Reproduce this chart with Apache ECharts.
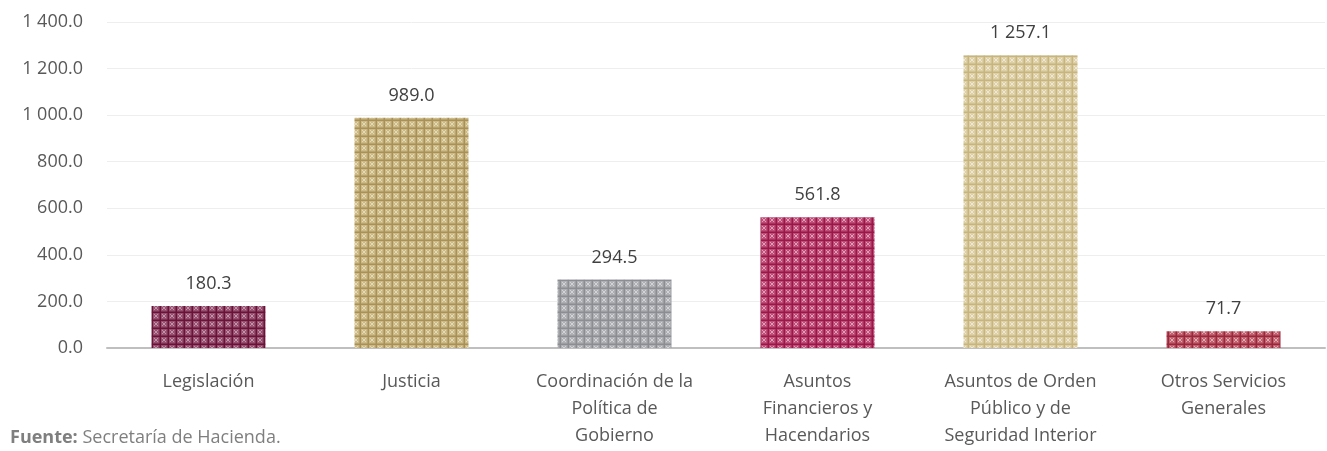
<!DOCTYPE html>
<html>
<head>
<meta charset="utf-8">
<script src="https://cdn.jsdelivr.net/npm/echarts@6/dist/echarts.min.js"></script>
<style>
  html, body { margin: 0; padding: 0; background: #fff; }
  #chart { width: 1327px; height: 451px; }
</style>
</head>
<body>
<div id="chart"></div>
<script>
var categories = [
    'Legislación',
    'Justicia',
    'Coordinación de la\nPolítica de\nGobierno',
    'Asuntos\nFinancieros y\nHacendarios',
    'Asuntos de Orden\nPúblico y de\nSeguridad Interior',
    'Otros Servicios\nGenerales'
];
var values = [180.3, 989.0, 294.5, 561.8, 1257.1, 71.7];
// colores de la trama (línea oscura, fondo medio, punto claro)
var darkColors = ['#6a1238', '#a89058', '#8c8d92', '#9a1848', '#c8b57e', '#98283c'];
var midColors = ['#94506e', '#cbb986', '#aeafb3', '#bd4d76', '#ddd0a8', '#c0606e'];
var lightColors = ['#c48fa8', '#e5d9b4', '#d2d3d6', '#e39ab6', '#efe7cf', '#e4a8b0'];

function fmt(v) {
    var s = v.toFixed(1).split('.');
    return s[0].replace(/\B(?=(\d{3})+(?!\d))/g, ' ') + '.' + s[1];
}

// textura cuadriculada tipo "plaid" como en el original
function makePattern(dark, mid, light) {
    var c = document.createElement('canvas');
    c.width = 8;
    c.height = 8;
    var ctx = c.getContext('2d');
    ctx.fillStyle = mid;
    ctx.fillRect(0, 0, 8, 8);
    ctx.fillStyle = light;
    ctx.fillRect(2, 2, 1, 1); ctx.fillRect(5, 5, 1, 1);
    ctx.fillRect(5, 2, 1, 1); ctx.fillRect(2, 5, 1, 1);
    ctx.fillRect(3, 3, 2, 2);
    ctx.fillStyle = dark;
    ctx.fillRect(0, 0, 1, 8);
    ctx.fillRect(0, 0, 8, 1);
    ctx.globalAlpha = 0.5;
    ctx.fillRect(7, 0, 1, 8);
    ctx.fillRect(0, 7, 8, 1);
    return c;
}

var seriesData = values.map(function (v, i) {
    return {
        value: v,
        itemStyle: { color: { image: makePattern(darkColors[i], midColors[i], lightColors[i]), repeat: 'repeat' } }
    };
});

var chart = echarts.init(document.getElementById('chart'));
chart.setOption({
    animation: false,
    textStyle: { fontFamily: 'Open Sans' },
    grid: { left: 107, right: 2, top: 22, bottom: 103, containLabel: false },
    xAxis: {
        type: 'category',
        data: categories,
        axisTick: { show: false },
        axisLine: { lineStyle: { color: '#bfbfbf', width: 2 } },
        axisLabel: {
            color: '#595959',
            fontSize: 18,
            lineHeight: 27,
            margin: 20,
            interval: 0
        }
    },
    yAxis: {
        type: 'value',
        min: 0,
        max: 1400,
        interval: 200,
        axisLine: { show: false },
        axisTick: { show: false },
        splitLine: { lineStyle: { color: '#eeeeee', width: 1 } },
        axisLabel: {
            color: '#595959',
            fontSize: 18,
            margin: 24,
            formatter: function (v) { return fmt(v); }
        }
    },
    series: [{
        type: 'bar',
        data: seriesData,
        barWidth: 114,
        label: {
            show: true,
            position: 'top',
            distance: 13,
            color: '#404040',
            fontSize: 18,
            formatter: function (p) { return fmt(p.value); }
        }
    }],
    graphic: [{
        type: 'text',
        left: 10,
        top: 429,
        style: {
            text: '{b|Fuente:} Secretaría de Hacienda.',
            fill: '#7f7f7f',
            font: '18px "Open Sans"',
            rich: {
                b: { fontWeight: 'bold', fill: '#7f7f7f', fontSize: 18, fontFamily: 'Open Sans' }
            }
        }
    }]
});
</script>
</body>
</html>
